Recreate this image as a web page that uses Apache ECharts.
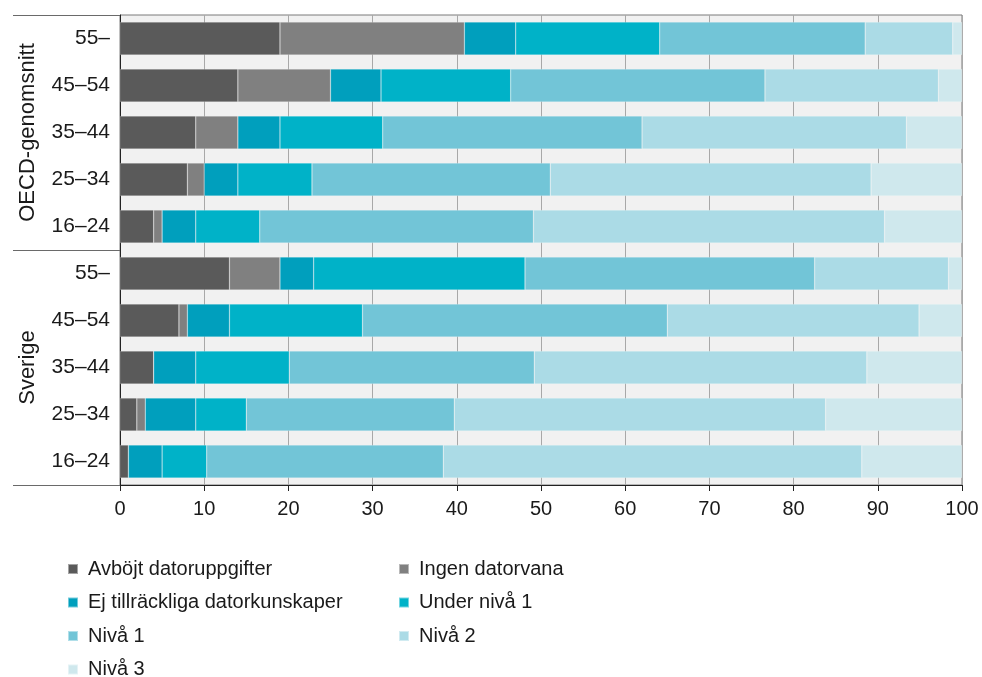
<!DOCTYPE html>
<html>
<head>
<meta charset="utf-8">
<script src="https://cdn.jsdelivr.net/npm/echarts@6/dist/echarts.min.js"></script>
<style>
html,body{margin:0;padding:0;background:#fff;}
#chart{width:982px;height:677px;}
</style>
</head>
<body>
<div id="chart"></div>
<script>
// ---- data (top row first) ----
const groups = ['OECD-genomsnitt', 'Sverige'];
const ages = ['55–', '45–54', '35–44', '25–34', '16–24'];
const seriesNames = ['Avböjt datoruppgifter', 'Ingen datorvana', 'Ej tillräckliga datorkunskaper',
  'Under nivå 1', 'Nivå 1', 'Nivå 2', 'Nivå 3'];
const avbojt   = [19.0, 14.0, 9.0, 8.0, 4.0, 13.0, 7.0, 4.0, 2.0, 1.0];
const ingen    = [21.9, 11.0, 5.0, 2.0, 1.0, 6.0, 1.0, 0.0, 1.0, 0.0];
const ejTillr  = [6.1, 6.0, 5.0, 4.0, 4.0, 4.0, 5.0, 5.0, 6.0, 4.0];
const underN1  = [17.1, 15.4, 12.2, 8.8, 7.6, 25.1, 15.8, 11.1, 6.0, 5.3];
const niva1    = [24.4, 30.2, 30.8, 28.3, 32.5, 34.4, 36.2, 29.1, 24.7, 28.1];
const niva2    = [10.4, 20.6, 31.4, 38.1, 41.7, 15.9, 29.9, 39.5, 44.1, 49.7];
const niva3    = [1.1, 2.8, 6.6, 10.8, 9.2, 1.6, 5.1, 11.3, 16.2, 11.9];
const xTicks = { min: 0, max: 100, interval: 10 };

const values = [avbojt, ingen, ejTillr, underN1, niva1, niva2, niva3];
const colors = ['#5a5a5a', '#808080', '#009fbd', '#00b2c8', '#72c5d7', '#abdbe6', '#cfe8ed'];
const cats = [];
groups.forEach(g => ages.forEach(a => cats.push(g + '|' + a)));

const FONT = '"Liberation Sans", Arial, sans-serif';
const TXT = '#1a1a1a';

const chart = echarts.init(document.getElementById('chart'), null, { renderer: 'canvas' });
const legendCommon = {
  orient: 'vertical', top: 559, height: 140, padding: 0, icon: 'rect',
  itemWidth: 10, itemHeight: 10, itemGap: 13.5,
  textStyle: { fontSize: 20, lineHeight: 20, color: TXT, fontFamily: FONT, padding: [0, 0, 0, 5] }
};
chart.setOption({
  animation: false,
  textStyle: { fontFamily: FONT },
  grid: {
    left: 120, right: 20, top: 15, bottom: 192,
    show: true, backgroundColor: '#f1f1f1', borderColor: '#7a7a7a', borderWidth: 1
  },
  xAxis: {
    type: 'value', min: xTicks.min, max: xTicks.max, interval: xTicks.interval,
    axisLine: { show: true, lineStyle: { color: '#222', width: 1 } },
    axisTick: { show: true, length: 6, lineStyle: { color: '#222' } },
    axisLabel: { fontSize: 20, color: TXT, margin: 14, fontFamily: FONT },
    splitLine: { show: true, lineStyle: { color: '#a8a8a8', width: 1 } }
  },
  yAxis: [
    {
      type: 'category', data: cats, inverse: true,
      axisLine: { show: true, lineStyle: { color: '#222', width: 1 } },
      axisTick: { show: false },
      axisLabel: {
        fontSize: 21, color: TXT, margin: 10, fontFamily: FONT,
        formatter: v => v.split('|')[1]
      }
    },
    {
      type: 'category', data: groups, inverse: true, position: 'left',
      axisLine: { show: false },
      axisTick: { show: true, length: 107, lineStyle: { color: '#6a6a6a', width: 1 } },
      axisLabel: { rotate: 90, fontSize: 22, color: TXT, margin: 81, fontFamily: FONT }
    }
  ],
  legend: [
    Object.assign({}, legendCommon, {
      data: [seriesNames[0], seriesNames[2], seriesNames[4], seriesNames[6]], left: 67
    }),
    Object.assign({}, legendCommon, {
      data: [seriesNames[1], seriesNames[3], seriesNames[5]], left: 398
    })
  ],
  series: seriesNames.map((n, i) => ({
    name: n, type: 'bar', stack: 'all', yAxisIndex: 0,
    barWidth: 33,
    itemStyle: { color: colors[i], borderColor: 'rgba(255,255,255,0.45)', borderWidth: 0.5 },
    data: values[i]
  }))
});
</script>
</body>
</html>
